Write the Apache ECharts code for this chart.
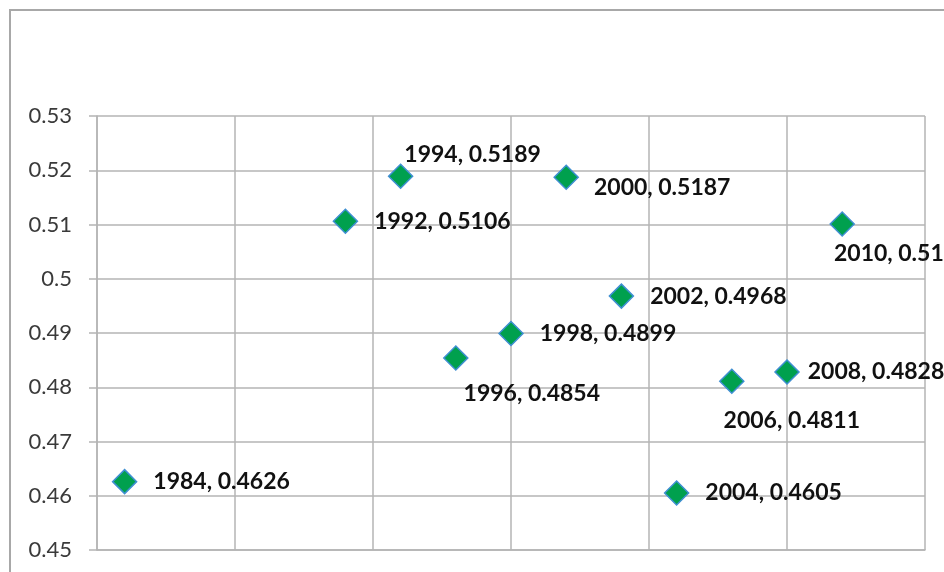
<!DOCTYPE html>
<html>
<head>
<meta charset="utf-8">
<script src="https://cdn.jsdelivr.net/npm/echarts@6/dist/echarts.min.js"></script>
<style>
  html, body { margin: 0; padding: 0; background: #ffffff; }
  #chart { width: 944px; height: 572px; }
</style>
</head>
<body>
<div id="chart"></div>
<script>
// Survey years and the measured ratio for each year
const years  = [1984, 1992, 1994, 1996, 1998, 2000, 2002, 2004, 2006, 2008, 2010];
const ratios = [0.4626, 0.5106, 0.5189, 0.4854, 0.4899, 0.5187, 0.4968, 0.4605, 0.4811, 0.4828, 0.5101];

// Value axis range and step for the ratio axis
const yMin = 0.45, yMax = 0.53, yStep = 0.01;
// Year axis range and step (gridlines every five years)
const xMin = 1983, xMax = 2013, xStep = 5;

// Label placement tweaks per year, relative to the default right-hand position
const labelShift = {
  1994: [-25, -22],
  1996: [-21, 36],
  2000: [-1, 10],
  2006: [-37, 39],
  2008: [-8, 0],
  2010: [-37, 30]
};

const gridColor = '#b4b4b4';
const labelFont = 'Lato, "Liberation Sans", sans-serif';

const points = years.map((yr, i) => {
  const shift = labelShift[yr] || [0, 0];
  return {
    value: [yr, ratios[i]],
    label: { offset: shift }
  };
});

const chart = echarts.init(document.getElementById('chart'), null, { renderer: 'canvas' });

chart.setOption({
  animation: false,
  backgroundColor: '#ffffff',
  graphic: [{
    type: 'rect',
    z: -10,
    shape: { x: 10, y: 10, width: 1000, height: 1000 },
    style: { fill: 'none', stroke: '#a8a8a8', lineWidth: 2 }
  }],
  grid: { left: 97, right: 19, top: 116, bottom: 22, containLabel: false },
  xAxis: {
    type: 'value',
    min: xMin, max: xMax, interval: xStep,
    axisLine: { show: true, lineStyle: { color: gridColor, width: 1.5 } },
    axisTick: { show: false },
    axisLabel: { show: false },
    splitLine: { show: true, lineStyle: { color: gridColor, width: 1.5 } }
  },
  yAxis: {
    type: 'value',
    min: yMin, max: yMax, interval: yStep,
    axisLine: { show: true, lineStyle: { color: gridColor, width: 1.5 } },
    axisTick: { show: true, inside: false, length: 8, lineStyle: { color: gridColor, width: 1.5 } },
    axisLabel: {
      margin: 25,
      color: '#3a3a3a',
      fontFamily: labelFont,
      fontSize: 22,
      formatter: v => String(parseFloat(v.toFixed(2)))
    },
    splitLine: { show: true, lineStyle: { color: gridColor, width: 1.5 } }
  },
  series: [{
    type: 'scatter',
    symbol: 'diamond',
    symbolSize: 24,
    itemStyle: { color: '#00a04e', borderColor: '#3f8fd2', borderWidth: 1.5, opacity: 1 },
    label: {
      show: true,
      position: 'right',
      distance: 16,
      color: '#111111',
      fontFamily: labelFont,
      fontWeight: 'bold',
      fontSize: 23,
      formatter: p => p.value[0] + ', ' + p.value[1].toFixed(4)
    },
    emphasis: { disabled: true },
    data: points
  }]
});
</script>
</body>
</html>
